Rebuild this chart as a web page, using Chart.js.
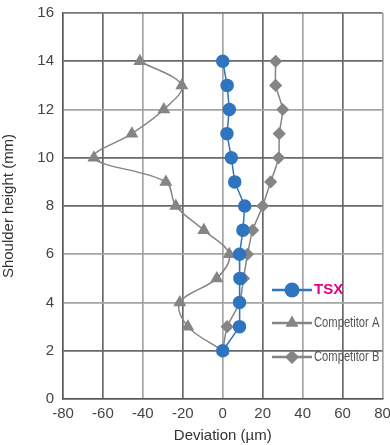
<!DOCTYPE html>
<html><head><meta charset="utf-8">
<script src="https://cdn.jsdelivr.net/npm/chart.js@4/dist/chart.umd.min.js"></script>
<style>html,body{margin:0;padding:0;background:#fff}#wrap{width:390px;height:445px}</style>
</head><body><div id="wrap"><canvas id="c" width="390" height="445"></canvas></div>
<script>
const heights = [14, 13, 12, 11, 10, 9, 8, 7, 6, 5, 4, 3, 2];
const tsx = [0, 2.2, 3.3, 2.1, 4.3, 6, 11, 10.1, 8.4, 8.6, 8.4, 8.4, 0];
const competitorA = [-41.5, -20.5, -29.5, -45.5, -64.5, -28.5, -23.5, -9.5, 3.3, -3, -21.5, -17.5, 0];
const competitorB = [26.5, 26.5, 30, 28.3, 28, 24, 20, 15, 12.4, 10.4, 8.5, 2.2, 0];
const seriesNames = ['TSX', 'Competitor A', 'Competitor B'];
const xTicks = [-80, -60, -40, -20, 0, 20, 40, 60, 80];
const yTicks = [0, 2, 4, 6, 8, 10, 12, 14, 16];

const toXY = arr => arr.map((v, i) => ({x: v, y: heights[i]}));
const blue = '#2f74bf', gray = '#858585';

const legendPlugin = {
  id: 'insideLegend',
  afterDatasetsDraw(chart) {
    const ctx = chart.ctx;
    const items = [
      {ds: chart.data.datasets[0], y: 290, color: '#e4007f', font: 'bold 15px "Liberation Sans", Arial, sans-serif', sx: 1},
      {ds: chart.data.datasets[1], y: 323, color: '#555', font: '14px "Liberation Sans", Arial, sans-serif', sx: 0.8},
      {ds: chart.data.datasets[2], y: 357, color: '#555', font: '14px "Liberation Sans", Arial, sans-serif', sx: 0.8}
    ];
    ctx.save();
    items.forEach(it => {
      ctx.strokeStyle = it.ds.borderColor;
      ctx.lineWidth = 2.5;
      ctx.beginPath(); ctx.moveTo(272, it.y); ctx.lineTo(312, it.y); ctx.stroke();
      ctx.fillStyle = it.ds.pointBackgroundColor;
      ctx.strokeStyle = it.ds.pointBackgroundColor;
      Chart.helpers.drawPoint(ctx, {pointStyle: it.ds.pointStyle, radius: it.ds.pointRadius + 1.5, rotation: 0, borderWidth: 0}, 292, it.y);
      ctx.fillStyle = it.color;
      ctx.font = it.font;
      ctx.textBaseline = 'middle';
      ctx.textAlign = 'left';
      ctx.save();
      ctx.translate(314, it.y);
      ctx.scale(it.sx, 1);
      ctx.fillText(it.ds.label, 0, 0);
      ctx.restore();
    });
    ctx.restore();
  }
};

const darkX = new Set([-60, -20, 20, 60]);
const darkY = new Set([14, 10, 8, 2]);

new Chart(document.getElementById('c'), {
  type: 'scatter',
  data: {
    datasets: [
      {label: seriesNames[0], data: toXY(tsx), showLine: true, borderColor: blue, backgroundColor: blue,
       pointBackgroundColor: blue, pointBorderColor: blue, pointStyle: 'circle', pointRadius: 6, borderWidth: 1.5, tension: 0},
      {label: seriesNames[1], data: toXY(competitorA), showLine: true, borderColor: gray, backgroundColor: gray,
       pointBackgroundColor: gray, pointBorderColor: gray, pointStyle: 'triangle', pointRadius: 6, borderWidth: 1.5, tension: 0.35},
      {label: seriesNames[2], data: toXY(competitorB), showLine: true, borderColor: gray, backgroundColor: gray,
       pointBackgroundColor: gray, pointBorderColor: gray, pointStyle: 'rectRot', pointRadius: 5.5, borderWidth: 1.5, tension: 0.2}
    ]
  },
  options: {
    responsive: false,
    animation: false,
    layout: {padding: {left: 0, right: 5, top: 13, bottom: 0}},
    plugins: {legend: {display: false}, tooltip: {enabled: false}},
    scales: {
      x: {
        type: 'linear', min: -80, max: 80,
        afterBuildTicks: s => { s.ticks = xTicks.map(v => ({value: v})); },
        afterFit: s => { s.height = 46; s.paddingLeft = 0; s.paddingRight = 0; },
        grid: {color: c => c.tick && darkX.has(c.tick.value) ? '#6a6a6a' : '#a5a5a5', lineWidth: 1.7, drawTicks: false},
        border: {color: '#555', width: 1.5},
        ticks: {color: '#444', font: {family: '"Liberation Sans", Arial, sans-serif', size: 15}, padding: 6, maxRotation: 0, autoSkip: false},
        title: {display: true, text: 'Deviation (µm)', color: '#333', font: {family: '"Liberation Sans", Arial, sans-serif', size: 15}, padding: {top: 0, bottom: 0}}
      },
      y: {
        type: 'linear', min: 0, max: 16,
        afterBuildTicks: s => { s.ticks = yTicks.map(v => ({value: v})); },
        afterFit: s => { s.width = 63; s.paddingTop = 0; s.paddingBottom = 0; },
        grid: {color: c => c.tick && darkY.has(c.tick.value) ? '#6a6a6a' : (c.tick && c.tick.value === 16 ? '#777' : '#a5a5a5'), lineWidth: 1.7, drawTicks: false},
        border: {color: '#555', width: 1.5},
        ticks: {color: '#444', font: {family: '"Liberation Sans", Arial, sans-serif', size: 15}, padding: 9, autoSkip: false},
        title: {display: true, text: 'Shoulder height (mm)', color: '#333', font: {family: '"Liberation Sans", Arial, sans-serif', size: 15}, padding: {top: 0, bottom: 4}}
      }
    }
  },
  plugins: [legendPlugin]
});
</script>
</body></html>
